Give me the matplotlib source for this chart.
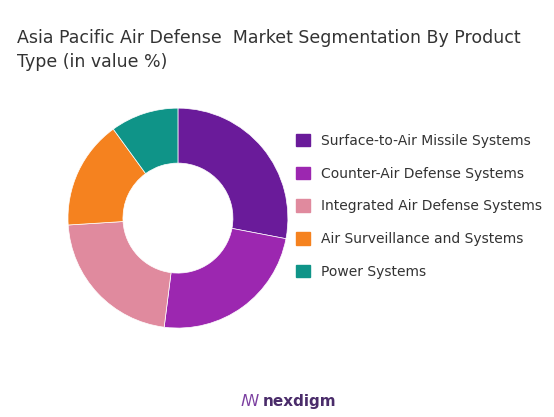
import matplotlib
matplotlib.use("Agg")
import matplotlib.pyplot as plt
from matplotlib.patches import Patch

categories = ["Surface-to-Air Missile Systems", "Counter-Air Defense Systems",
              "Integrated Air Defense Systems", "Air Surveillance and Systems", "Power Systems"]
values = [28, 24, 22, 16, 10]
colors = ["#6a1b9a", "#9c27b0", "#e08a9e", "#f5821f", "#0f9488"]

fig = plt.figure(figsize=(5.54, 4.17), dpi=100)
fig.text(0.03, 0.91, "Asia Pacific Air Defense  Market Segmentation By Product", fontsize=12.5, color="#333333", va="center")
fig.text(0.03, 0.852, "Type (in value %)", fontsize=12.5, color="#333333", va="center")

ax = fig.add_axes([0.1227, 0.213, 0.397, 0.528])
ax.pie(values, colors=colors, startangle=90, counterclock=False,
       wedgeprops=dict(width=0.5, edgecolor="white", linewidth=0.5))
ax.set_xlim(-1, 1); ax.set_ylim(-1, 1)
ax.set_aspect("equal")

handles = [Patch(color=c) for c in colors]
fig.legend(handles, categories, loc="center left", bbox_to_anchor=(0.525, 0.505),
           frameon=False, fontsize=10, handlelength=1.0, handleheight=1.0,
           labelspacing=1.35, labelcolor="#333333", borderaxespad=0)

fig.text(0.475, 0.038, "nexdigm", fontsize=11, color="#4a2c6a", ha="left", va="center", weight="bold")
fig.text(0.435, 0.038, "ꟿ", fontsize=11, color="#7b3fa0", ha="left", va="center")
fig.savefig("out.png", dpi=100, facecolor="white")
